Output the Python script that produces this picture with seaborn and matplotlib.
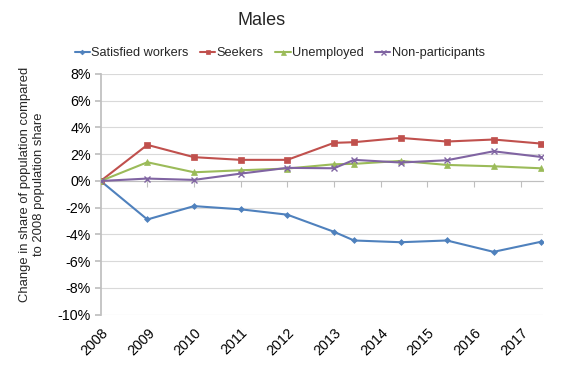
import matplotlib
matplotlib.use("Agg")
import matplotlib.pyplot as plt
import seaborn as sns
import pandas as pd
from matplotlib.ticker import FuncFormatter

years = [2008, 2009, 2010, 2011, 2012, 2013, 2013.43, 2014.43, 2015.42, 2016.42, 2017.43]
tick_years = [2008, 2009, 2010, 2011, 2012, 2013, 2014, 2015, 2016, 2017]
satisfied = [0.0, -2.88, -1.88, -2.12, -2.52, -3.80, -4.45, -4.58, -4.45, -5.30, -4.55]
seekers = [0.0, 2.70, 1.78, 1.58, 1.58, 2.85, 2.90, 3.22, 2.95, 3.10, 2.80]
unemployed = [0.0, 1.40, 0.65, 0.80, 0.93, 1.25, 1.28, 1.50, 1.20, 1.10, 0.95]
nonpart = [0.0, 0.18, 0.08, 0.55, 0.98, 0.95, 1.58, 1.38, 1.55, 2.22, 1.80]
series_names = ["Satisfied workers", "Seekers", "Unemployed", "Non-participants"]
colors = ["#4F81BD", "#C0504D", "#9BBB59", "#8064A2"]
markers = ["D", "s", "^", "x"]
msizes = [3.0, 4.0, 4.5, 4.5]

sns.set_theme(style="white")
plt.rcParams['font.family'] = ['Liberation Sans', 'DejaVu Sans']

df = pd.DataFrame({"year": years * 4,
                   "value": satisfied + seekers + unemployed + nonpart,
                   "series": sum([[n] * len(years) for n in series_names], [])})

fig = plt.figure(figsize=(5.84, 3.81), dpi=100)
ax = fig.add_axes([0.1724, 0.174, 0.929 - 0.1724, 0.8058 - 0.174])

for name, c, m, ms in zip(series_names, colors, markers, msizes):
    sub = df[df.series == name]
    sns.lineplot(data=sub, x="year", y="value", ax=ax, color=c, marker=m,
                 markersize=ms, markeredgecolor=c, markeredgewidth=1.0 if m == "x" else 0.5,
                 linewidth=1.5, label=name, zorder=3)

ax.set_xlim(2008, 2017.47)
ax.set_ylim(-10, 8)
ax.set_yticks(range(-10, 9, 2))
ax.yaxis.set_major_formatter(FuncFormatter(lambda v, p: f"{int(v)}%"))
ax.grid(axis="y", color="#D9D9D9", linewidth=0.8)
ax.set_axisbelow(True)
for s in ["top", "right", "bottom"]:
    ax.spines[s].set_visible(False)
ax.spines["left"].set_color("#BFBFBF")
ax.tick_params(axis="y", which="both", left=True, length=4, color="#BFBFBF",
               labelsize=10.3, pad=3, labelcolor="black")

ax.set_xticks(tick_years)
ax.set_xticklabels([str(y) for y in tick_years], rotation=45, ha="right",
                   rotation_mode="anchor", fontsize=10.3)
ax.tick_params(axis="x", bottom=False, pad=2, labelcolor="black")

sec = ax.secondary_xaxis(10 / 18)
sec.set_xticks(tick_years)
sec.set_xticklabels([])
sec.xaxis.set_ticks_position("bottom")
for s in ["top", "bottom"]:
    sec.spines[s].set_color("#BFBFBF")
    sec.spines[s].set_linewidth(0.8)
sec.tick_params(axis="x", direction="out", length=4, width=0.8, color="#BFBFBF")
sec.set_zorder(1)

ax.set_xlabel("")
ax.set_ylabel("Change in share of population compared\nto 2008 population share",
              fontsize=9.4, linespacing=1.22)
ax.yaxis.set_label_coords(-0.125, 0.543)

ax.set_title("Males", fontsize=13, x=0.363, pad=35)
ax.legend(loc="lower center", bbox_to_anchor=(0.405, 1.035), ncol=4, frameon=False,
          fontsize=9.2, handlelength=1.2, handletextpad=0.1, columnspacing=0.9,
          borderaxespad=0.1, markerscale=0.8)

fig.savefig("out.png", dpi=100)
